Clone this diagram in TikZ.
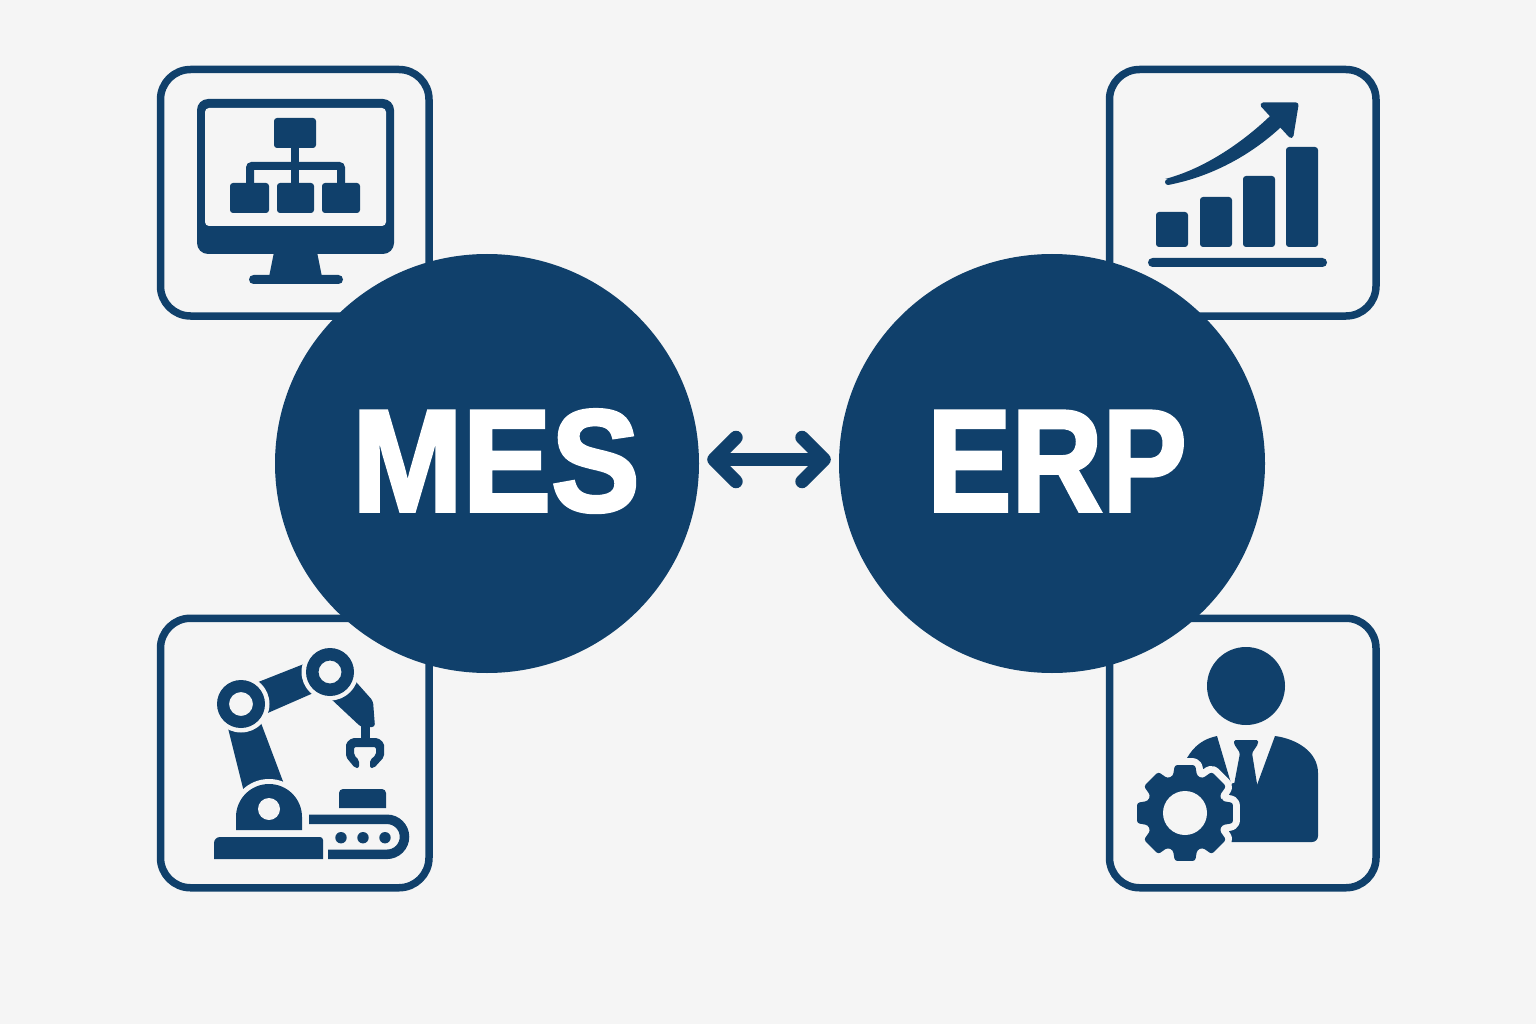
\documentclass[tikz,border=0pt]{standalone}
\usepackage{fontspec}
\setmainfont{Liberation Sans}[BoldFeatures={FakeBold=2.5}]
\usetikzlibrary{shapes.geometric,arrows.meta,calc}
\definecolor{navy}{HTML}{10406B}
\definecolor{bgc}{HTML}{F5F5F5}
\tikzset{
  card/.style={draw=navy,line width=7.5pt,rounded corners=30pt,fill=bgc,minimum width=268.5pt,inner sep=0pt},
  hub/.style={ellipse,fill=navy,inner sep=0pt,minimum height=419pt},
  hubtext/.style={text=white,anchor=base,inner sep=0pt,font=\fontsize{145}{145}\bfseries},
  ink/.style={fill=navy,draw=none},
  halo/.style={draw=bgc,fill=bgc},
  link/.style={draw=navy,line width=13.5pt,line cap=round,line join=round,
    {Straight Barb[round,length=22pt,width=44pt]}-{Straight Barb[round,length=22pt,width=44pt]},
    shorten <=8pt,shorten >=8pt}
}
\begin{document}
\begin{tikzpicture}[x=1pt,y=-1pt]
\useasboundingbox (0,0) rectangle (1536,1024);
\fill[bgc] (0,0) rectangle (1536,1024);
% cards
\node[card,minimum height=246.5pt] (c1) at (294.75,192.75) {};
\node[card,minimum height=269.5pt] (c2) at (294.75,753) {};
\node[card,minimum height=246.5pt,minimum width=266.5pt] (c3) at (1242.75,192.75) {};
\node[card,minimum height=269.5pt,minimum width=266.5pt] (c4) at (1242.75,753) {};
% monitor
\fill[ink,rounded corners=11pt] (197,99) rectangle (394,254);
\fill[bgc,rounded corners=4pt] (205,108) rectangle (386,226);
\fill[ink] (274,252) -- (317,252) -- (322,277) -- (269,277) -- cycle;
\fill[ink,rounded corners=4.5pt] (249,275) rectangle (343,284);
\fill[ink,rounded corners=3pt] (274,118) rectangle (316,148);
\fill[ink,rounded corners=3pt] (230,183) rectangle (269,213);
\fill[ink,rounded corners=3pt] (277,183) rectangle (314,213);
\fill[ink,rounded corners=3pt] (322,183) rectangle (360,213);
\fill[ink] (291,146) rectangle (299,185);
\draw[navy,line width=8pt,rounded corners=2pt] (250,185) -- (250,166) -- (341,166) -- (341,185);
% robot
\fill[ink] (255,683.3) -- (310,661.6) -- (318,691) -- (262,715.5) -- cycle;
\fill[ink] (224.7,715) -- (258,715) -- (290,800) -- (246,800) -- cycle;
\fill[ink,rounded corners=3pt] (345,669.5) -- (373,701) -- (375,727) -- (361,727) -- (320,688.6) -- cycle;
\fill[bgc] (241,704) circle[radius=28.5];
\fill[bgc] (330,672) circle[radius=28.5];
\fill[ink,even odd rule] (241,704) circle[radius=24] (241,704) circle[radius=12];
\fill[ink,even odd rule] (330,672) circle[radius=24] (330,672) circle[radius=11.5];
\fill[ink] (361,723) rectangle (370,740);
\fill[ink,rounded corners=2pt] (352,738) -- (378,738) -- (384,743) -- (384,757) -- (374,768) -- (370,768) -- (370,760) -- (376,755) -- (376,747) -- (354,747) -- (354,755) -- (359,760) -- (359,768) -- (355,768) -- (346,757) -- (346,743) -- cycle;
\draw[halo,line width=10pt] (236,830) -- (236,817) arc[start angle=180,end angle=360,radius=33] -- (302,830) -- cycle;
\fill[ink] (236,830) -- (236,817) arc[start angle=180,end angle=360,radius=33] -- (302,830) -- cycle;
\fill[bgc] (269,809) circle[radius=11];
\fill[bgc] (214,835) rectangle (325,859);
\fill[ink] (214,859) -- (214,843) arc[start angle=180,end angle=270,radius=6] -- (320,837) arc[start angle=270,end angle=360,radius=3] -- (323,859) -- cycle;
\fill[ink] (339,808) -- (339,793) arc[start angle=180,end angle=270,radius=4] -- (382,789) arc[start angle=270,end angle=360,radius=4] -- (386,808) -- cycle;
\draw[navy,line width=9.5pt] (309,819.3) -- (387,819.3) arc[start angle=270,end angle=450,radius=17.5] -- (328,854.3);
\fill[ink] (341,837.7) circle[radius=5.7] (363,837.7) circle[radius=5.7] (385,837.7) circle[radius=5.7];
% chart
\fill[ink,rounded corners=3pt] (1156,212) rectangle (1188,247);
\fill[ink,rounded corners=3pt] (1200,197) rectangle (1232,247);
\fill[ink,rounded corners=3pt] (1243,176) rectangle (1275,247);
\fill[ink,rounded corners=3pt] (1286,147) rectangle (1318,247);
\fill[ink,rounded corners=4.5pt] (1148,258) rectangle (1327,267);
\fill[ink] (1165,179) .. controls (1200,170) and (1237,147) .. (1268,118) -- (1275,111) -- (1287,122) -- (1280,128) .. controls (1245,160) and (1205,178) .. (1168,185) arc[start angle=90,end angle=270,radius=3] -- cycle;
\draw[navy,fill=navy,line width=5pt,line join=round] (1263,105) -- (1296,105) -- (1291,135.5) -- cycle;
% person
\fill[ink] (1246,686) circle[radius=39];
\fill[ink] (1217,736) .. controls (1203,739) and (1194,746) .. (1187,758) -- (1233,790) -- cycle;
\fill[ink] (1275,736) .. controls (1297,739) and (1318,752) .. (1318,773) -- (1318,836) arc[start angle=0,end angle=90,radius=6] -- (1225,842) -- (1225,790) -- (1233,783) -- (1257,785) -- cycle;
\fill[ink,rounded corners=1.5pt] (1234,740) -- (1258,740) -- (1258,744) -- (1252,753) -- (1258,790) -- (1233,790) -- (1240,753) -- (1234,744) -- cycle;
\newcommand{\gearpath}{($(1185,813)+(-18:39)$) \foreach \a in {0,45,...,315}{ -- ($(1185,813)+(\a-18:39)$) -- ($(1185,813)+(\a-12:49)$) -- ($(1185,813)+(\a+12:49)$) -- ($(1185,813)+(\a+18:39)$)} -- cycle}
\draw[halo,line width=14pt,line join=round,rounded corners=2.5pt] \gearpath;
\fill[ink,rounded corners=2.5pt] \gearpath;
\fill[bgc] (1185,813) circle[radius=22];
% hubs
\node[hub,minimum width=424pt] (MES) at (487,463.5) {};
\node[hub,minimum width=426pt] (ERP) at (1052,463.5) {};
\node[hubtext] (MESt) at (496,511) {\scalebox{.915}[1]{MES}};
\node[hubtext] (ERPt) at (1057,511) {\scalebox{.87}[1]{ERP}};
\draw[link] ([yshift=4pt]MES.east) -- ([yshift=4pt]ERP.west);
\end{tikzpicture}
\end{document}
